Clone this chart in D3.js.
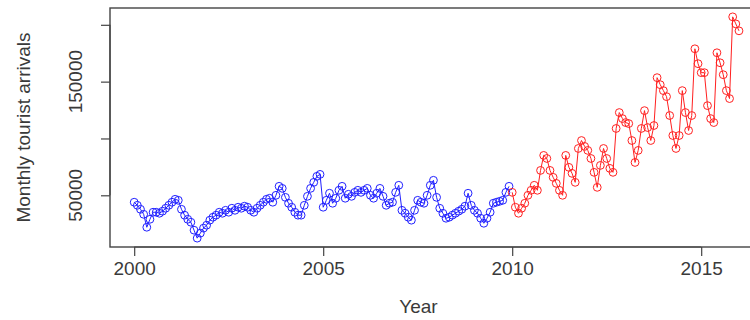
<!DOCTYPE html>
<html>
<head>
<meta charset="utf-8">
<script src="https://cdn.jsdelivr.net/npm/d3@7"></script>
<style>
    body { margin: 0; background: #fff; }
    text { font-family: "Liberation Sans", Arial, sans-serif; fill: #3a3a3a; }
</style>
</head>
<body>
<svg id="chart" width="750" height="320"></svg>
<script>
// monthly arrivals, Jan 2000 - Dec 2009 (blue)
const blueArrivals = [
    43900, 41200, 37700, 33300, 21900, 28900, 35100, 35100, 34200, 36000, 38600, 41200,
    43900, 46500, 45600, 37700, 32500, 28900, 26300, 19300, 12300, 16700, 21100, 23700,
    28100, 30700, 32500, 35100, 34200, 36800, 35100, 38600, 36800, 39500, 38600, 40400,
    39500, 36800, 35100, 38600, 41200, 43900, 46500, 47400, 43900, 50000, 57900, 56100,
    48200, 43000, 39500, 35100, 32500, 32500, 41200, 49100, 56100, 61400, 66700, 68400,
    39500, 45600, 51800, 43000, 47400, 54400, 57900, 47400, 50900, 49100, 52600, 54400,
    52600, 54400, 56100, 50000, 47400, 51800, 56100, 49100, 41200, 43000, 43900, 52600,
    58800, 36800, 34200, 30700, 28100, 36800, 45600, 43900, 43000, 50000, 58800, 63200,
    48200, 38600, 34200, 29800, 30700, 32500, 34200, 36000, 37700, 40400, 51800, 41200,
    36800, 34200, 29800, 25400, 29800, 35100, 43000, 43900, 44700, 45600, 52600, 57900
]
// monthly arrivals, Jan 2010 - Jan 2016 (red)
const redArrivals = [
    52600, 39500, 34200, 38600, 43000, 50000, 54400, 58800, 54400, 71900, 85100, 82400,
    71900, 65800, 60500, 54400, 50000, 85100, 74600, 69300, 61400, 91200, 98200, 93000,
    89500, 82400, 70200, 57000, 76300, 91200, 82400, 73700, 70200, 108800, 122800, 117500,
    114000, 113100, 98200, 78900, 89500, 108800, 124500, 109600, 98200, 111400, 153500, 147300,
    142100, 136800, 120200, 102600, 91200, 102600, 142100, 122800, 107000, 120200, 178900, 165800,
    157900, 157900, 128900, 117500, 114000, 175400, 166600, 156100, 142100, 135100, 207000, 200800,
    194700
]
const blueStart = 2000
const redStart = 2010
const xTicks = [2000, 2005, 2010, 2015]
const yTicks = [50000, 100000, 150000, 200000]
const yTickLabels = [50000, 150000]

const toPoints = (values, start) => values.map((v, i) => ({ t: start + i / 12, v: v }))

const createChart = () => {
    const bluePts = toPoints(blueArrivals, blueStart)
    const redPts = toPoints(redArrivals, redStart)
    const all = bluePts.concat(redPts)

    // R style 4% padding on both axes
    const [tMin, tMax] = d3.extent(all, (d) => d.t)
    const [vMin, vMax] = d3.extent(all, (d) => d.v)
    const tPad = (tMax - tMin) * 0.04
    const vPad = (vMax - vMin) * 0.04

    const left = 110, top = 8, bottom = 247
    const pxPerYear = 37.8
    const right = left + (tMax - tMin + 2 * tPad) * pxPerYear

    const x = d3.scaleLinear().domain([tMin - tPad, tMax + tPad]).range([left, right])
    const y = d3.scaleLinear().domain([vMin - vPad, vMax + vPad]).range([bottom, top])

    const svg = d3.select('#chart')

    const line = d3.line().x((d) => x(d.t)).y((d) => y(d.v))

    const drawSeries = (pts, color) => {
        svg.append('path')
            .datum(pts)
            .attr('d', line)
            .attr('fill', 'none')
            .attr('stroke', color)
            .attr('stroke-width', 1)
        svg.append('g')
            .selectAll('circle')
            .data(pts)
            .enter()
            .append('circle')
            .attr('cx', (d) => x(d.t))
            .attr('cy', (d) => y(d.v))
            .attr('r', 3.9)
            .attr('fill', 'none')
            .attr('stroke', color)
            .attr('stroke-width', 1)
    }

    drawSeries(bluePts, '#2020ff')
    drawSeries(redPts, '#ff2020')

    // box
    svg.append('rect')
        .attr('x', left)
        .attr('y', top)
        .attr('width', right - left)
        .attr('height', bottom - top)
        .attr('fill', 'none')
        .attr('stroke', '#444')
        .attr('stroke-width', 1.4)

    // x axis
    const xAxis = svg.append('g').attr('transform', 'translate(0,' + bottom + ')')
        .call(d3.axisBottom(x).tickValues(xTicks).tickSize(9).tickPadding(6).tickFormat(d3.format('d')))
    xAxis.select('.domain')
        .attr('d', 'M' + x(xTicks[0]) + ',0H' + x(xTicks[xTicks.length - 1]))
        .attr('stroke', '#444').attr('stroke-width', 1.2)
    xAxis.selectAll('.tick line').attr('stroke', '#444').attr('stroke-width', 1.2)
    xAxis.selectAll('.tick text')
        .attr('font-size', 19)
        .attr('font-family', '"Liberation Sans", Arial, sans-serif')
        .attr('fill', '#3a3a3a')

    // y axis
    const yAxis = svg.append('g').attr('transform', 'translate(' + left + ',0)')
        .call(d3.axisLeft(y).tickValues(yTicks).tickSize(9).tickFormat(''))
    yAxis.select('.domain')
        .attr('d', 'M0,' + y(yTicks[0]) + 'V' + y(yTicks[yTicks.length - 1]))
        .attr('stroke', '#444').attr('stroke-width', 1.2)
    yAxis.selectAll('.tick line').attr('stroke', '#444').attr('stroke-width', 1.2)

    svg.append('g')
        .selectAll('text')
        .data(yTickLabels)
        .enter()
        .append('text')
        .attr('transform', (d) => 'translate(82,' + y(d) + ') rotate(-90)')
        .attr('text-anchor', 'middle')
        .attr('font-size', 19)
        .text((d) => d)

    // titles
    svg.append('text')
        .attr('x', (left + 715) / 2 + 6)
        .attr('y', 313)
        .attr('text-anchor', 'middle')
        .attr('font-size', 19)
        .text('Year')

    svg.append('text')
        .attr('transform', 'translate(30,' + (top + bottom) / 2 + ') rotate(-90)')
        .attr('text-anchor', 'middle')
        .attr('font-size', 19)
        .text('Monthly tourist arrivals')
}

createChart()
</script>
</body>
</html>
